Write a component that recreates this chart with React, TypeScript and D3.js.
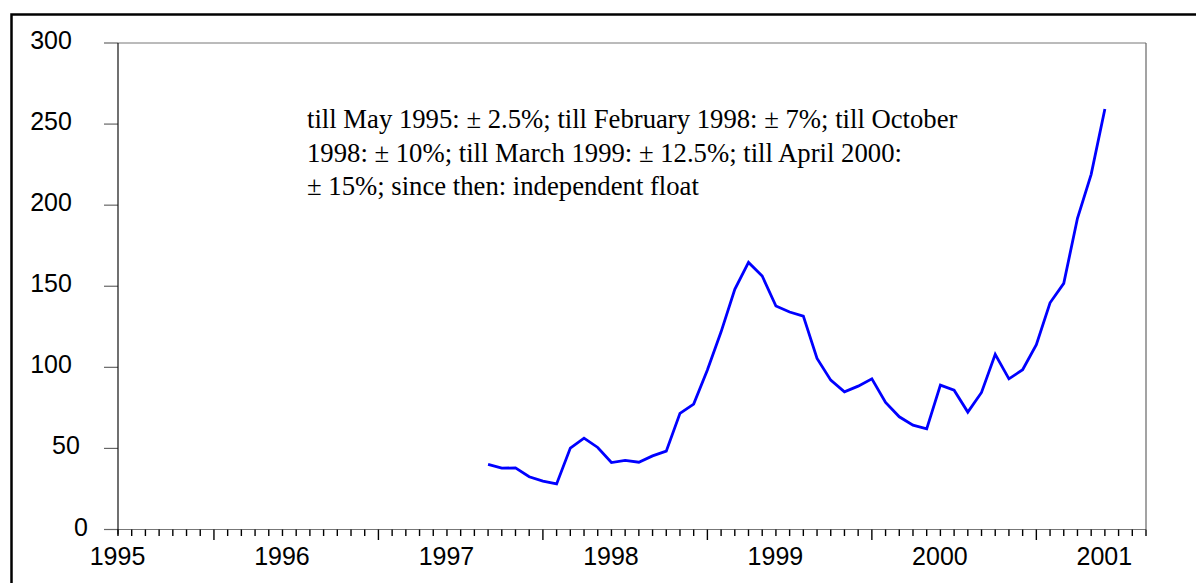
import React from "react";
import * as d3 from "d3";

// months since January 1995
const startMonth = 27; // April 1997
const values: number[] = [
  40.1, 37.8, 38.0, 32.5, 29.8, 28.1, 50.2, 56.3, 50.6, 41.3, 42.6, 41.5, 45.4, 48.3,
  71.6, 77.3, 98.3, 121.9, 148.1, 164.7, 156.3, 137.8, 134.1, 131.6, 105.5, 92.1, 84.9, 88.4, 92.9,
  78.3, 69.5, 64.3, 62.1, 89.0, 85.9, 72.4, 84.5, 108.0, 92.9, 98.5, 113.9, 139.8, 151.8, 191.9, 219.0, 259.3,
];
const yearLabels = ["1995", "1996", "1997", "1998", "1999", "2000", "2001"];
const yTicks = [0, 50, 100, 150, 200, 250, 300];
const noteLines = [
  "till May 1995: \u00b1 2.5%; till February 1998: \u00b1 7%; till October",
  "1998: \u00b1 10%; till March 1999: \u00b1 12.5%; till April 2000:",
  "\u00b1 15%; since then: independent float",
];

const W = 1196;
const H = 583;
const L = 118, R = 1146, T = 43, B = 529.5;

export default function App() {
  const x = d3.scaleLinear().domain([0, 75]).range([L, R]);
  const y = d3.scaleLinear().domain([0, 300]).range([B, T]);
  const pts = values.map((v, i) => [startMonth + i, v] as [number, number]);
  const line = d3.line<[number, number]>().x((d) => x(d[0])).y((d) => y(d[1]));
  const months = d3.range(0, 76);
  const sans = "'Liberation Sans', Arial, sans-serif";
  return (
    <svg width={W} height={H} style={{ position: "absolute", left: 0, top: 0, background: "#fff" }}>
      <rect x={0} y={0} width={W} height={H} fill="#fff" />
      <rect x={11.5} y={14.5} width={1300} height={700} fill="none" stroke="#000" strokeWidth={2.5} />
      {/* frame */}
      <line x1={L} x2={R} y1={T} y2={T} stroke="#777" strokeWidth={1} />
      <line x1={R} x2={R} y1={T} y2={B} stroke="#666" strokeWidth={1.2} />
      <line x1={104} x2={R} y1={B} y2={B} stroke="#777" strokeWidth={1.2} />
      {/* y ticks */}
      {yTicks.map((t) => (
        <g key={t}>
          <line x1={104} x2={L} y1={y(t)} y2={y(t)} stroke="#666" strokeWidth={1.2} />
          <text
            x={51 + (3 - String(t).length) * 15}
            y={y(t) + 6}
            textAnchor="middle"
            fontFamily={sans}
            fontSize={25}
            fill="#000"
          >
            {t}
          </text>
        </g>
      ))}
      <line x1={L} x2={L} y1={T} y2={B + 5} stroke="#111" strokeWidth={1.2} />
      {/* x ticks */}
      {months.map((m) => {
        const major = m % 12 === 7;
        return (
          <line
            key={m}
            x1={x(m)}
            x2={x(m)}
            y1={B}
            y2={B + (major ? 10.5 : 6.5)}
            stroke="#000"
            strokeWidth={1.4}
          />
        );
      })}
      {yearLabels.map((lab, i) => (
        <text
          key={lab}
          x={x(i * 12) - 0.5}
          y={565}
          textAnchor="middle"
          fontFamily={sans}
          fontSize={25}
          fill="#000"
        >
          {lab}
        </text>
      ))}
      <path d={line(pts) || ""} fill="none" stroke="#0000ff" strokeWidth={2.8} strokeLinejoin="miter" />
      {noteLines.map((s, i) => (
        <text
          key={i}
          x={307}
          y={128.4 + i * 33.3}
          fontFamily="'Liberation Serif', 'Times New Roman', serif"
          fontSize={26.7}
          fill="#000"
        >
          {s}
        </text>
      ))}
    </svg>
  );
}
